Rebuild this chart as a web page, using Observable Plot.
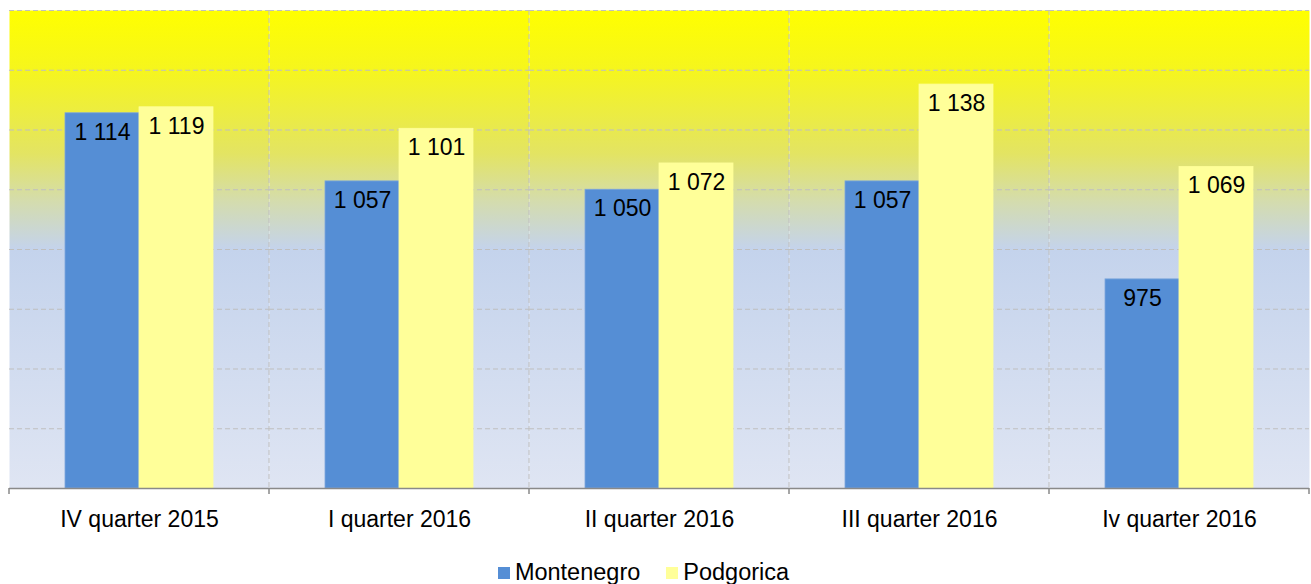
<!DOCTYPE html>
<html>
<head>
<meta charset="utf-8">
<script src="https://cdn.jsdelivr.net/npm/d3@7"></script>
<script src="https://cdn.jsdelivr.net/npm/@observablehq/plot@0.6"></script>
<style>
  body { margin: 0; background: #fff; font-family: "Liberation Sans", Arial, sans-serif; }
  #legend { display: flex; justify-content: center; gap: 26px; font-size: 23.5px; line-height: 26px; color: #000; margin-top: 23px; margin-left: -24px; }
  #legend span.item { display: flex; align-items: center; }
  #legend span.sw { display: inline-block; width: 12px; height: 12px; margin-right: 5px; margin-top: 2px; }
</style>
</head>
<body>
<div id="chart"></div>
<div id="legend"></div>
<script>
const categories = ["IV quarter 2015", "I quarter 2016", "II quarter 2016", "III quarter 2016", "Iv quarter 2016"];
const series = ["Montenegro", "Podgorica"];
const montenegro = [1114, 1057, 1050, 1057, 975];
const podgorica = [1119, 1101, 1072, 1138, 1069];
const colors = ["#558ed5", "#ffff99"];
const yTicks = [800, 850, 900, 950, 1000, 1050, 1100, 1150, 1200];

const data = [];
categories.forEach((c, i) => {
  data.push({cat: c, series: series[0], value: montenegro[i]});
  data.push({cat: c, series: series[1], value: podgorica[i]});
});
const fmt = v => d3.format(",")(v).replace(",", " ");

const chart = Plot.plot({
  width: 1311,
  height: 536,
  marginTop: 10,
  marginBottom: 48,
  marginLeft: 8,
  marginRight: 2,
  style: {fontFamily: "Liberation Sans, Arial, sans-serif", fontSize: "23px", color: "#000", background: "transparent"},
  fx: {domain: categories, paddingInner: 0, paddingOuter: 0, label: null, axis: null},
  x: {domain: series, paddingInner: 0, paddingOuter: 0.75, axis: null},
  y: {domain: [800, 1200], axis: null},
  color: {domain: series, range: colors},
  marks: [
    Plot.frame({fill: "url(#bgGrad)", stroke: null}),
    Plot.ruleY(yTicks, {stroke: "#bfbfbf", strokeDasharray: "5,3", strokeWidth: 1}),
    Plot.barY(data, {fx: "cat", x: "series", y1: 800, y2: "value", fill: "series", stroke: d => d.series === series[0] ? "#7da6dc" : "#ffff99", strokeWidth: 0.8}),
    Plot.text(data, {fx: "cat", x: "series", y: "value", text: d => fmt(d.value), dy: 19, fill: "#000", fontSize: 23}),
    Plot.axisFx({anchor: "bottom", tickSize: 0, tickPadding: 22, label: null, fontSize: 23}),
    Plot.ruleY([800], {stroke: "#898989", strokeWidth: 1.5})
  ]
});

// gradient defs
const svg = d3.select(chart);
const defs = svg.insert("defs", ":first-child");
const grad = defs.append("linearGradient").attr("id", "bgGrad").attr("x1", 0).attr("y1", 0).attr("x2", 0).attr("y2", 1);
[[0, "#ffff00"], [0.12, "#f6f61c"], [0.3, "#e3e463"], [0.4, "#d4dcae"], [0.5, "#c4d3ec"], [1, "#dfe5f3"]]
  .forEach(([o, c]) => grad.append("stop").attr("offset", o).attr("stop-color", c));

// category boundaries from the fx scale
const fx = chart.scale("fx");
const yS = chart.scale("y");
const y0 = yS.apply(800);
const bounds = categories.map(c => fx.apply(c)).concat([fx.apply(categories[categories.length - 1]) + fx.bandwidth]);
const g = svg.append("g").attr("stroke", "#898989").attr("stroke-width", 1.5);
bounds.forEach(b => {
  g.append("line").attr("x1", b).attr("x2", b).attr("y1", y0).attr("y2", y0 + 6);
});
const firstBar = svg.select("g[aria-label='bar']").node();
const gv = svg.insert("g", () => firstBar).attr("stroke", "#bfbfbf").attr("stroke-dasharray", "5,3");
bounds.slice(1, -1).forEach(b => {
  gv.append("line").attr("x1", b).attr("x2", b).attr("y1", yS.apply(1200)).attr("y2", y0);
});

document.getElementById("chart").appendChild(chart);

const lg = document.getElementById("legend");
series.forEach((s, i) => {
  const it = document.createElement("span");
  it.className = "item";
  it.innerHTML = `<span class="sw" style="background:${colors[i]}"></span>${s}`;
  lg.appendChild(it);
});
</script>
</body>
</html>
